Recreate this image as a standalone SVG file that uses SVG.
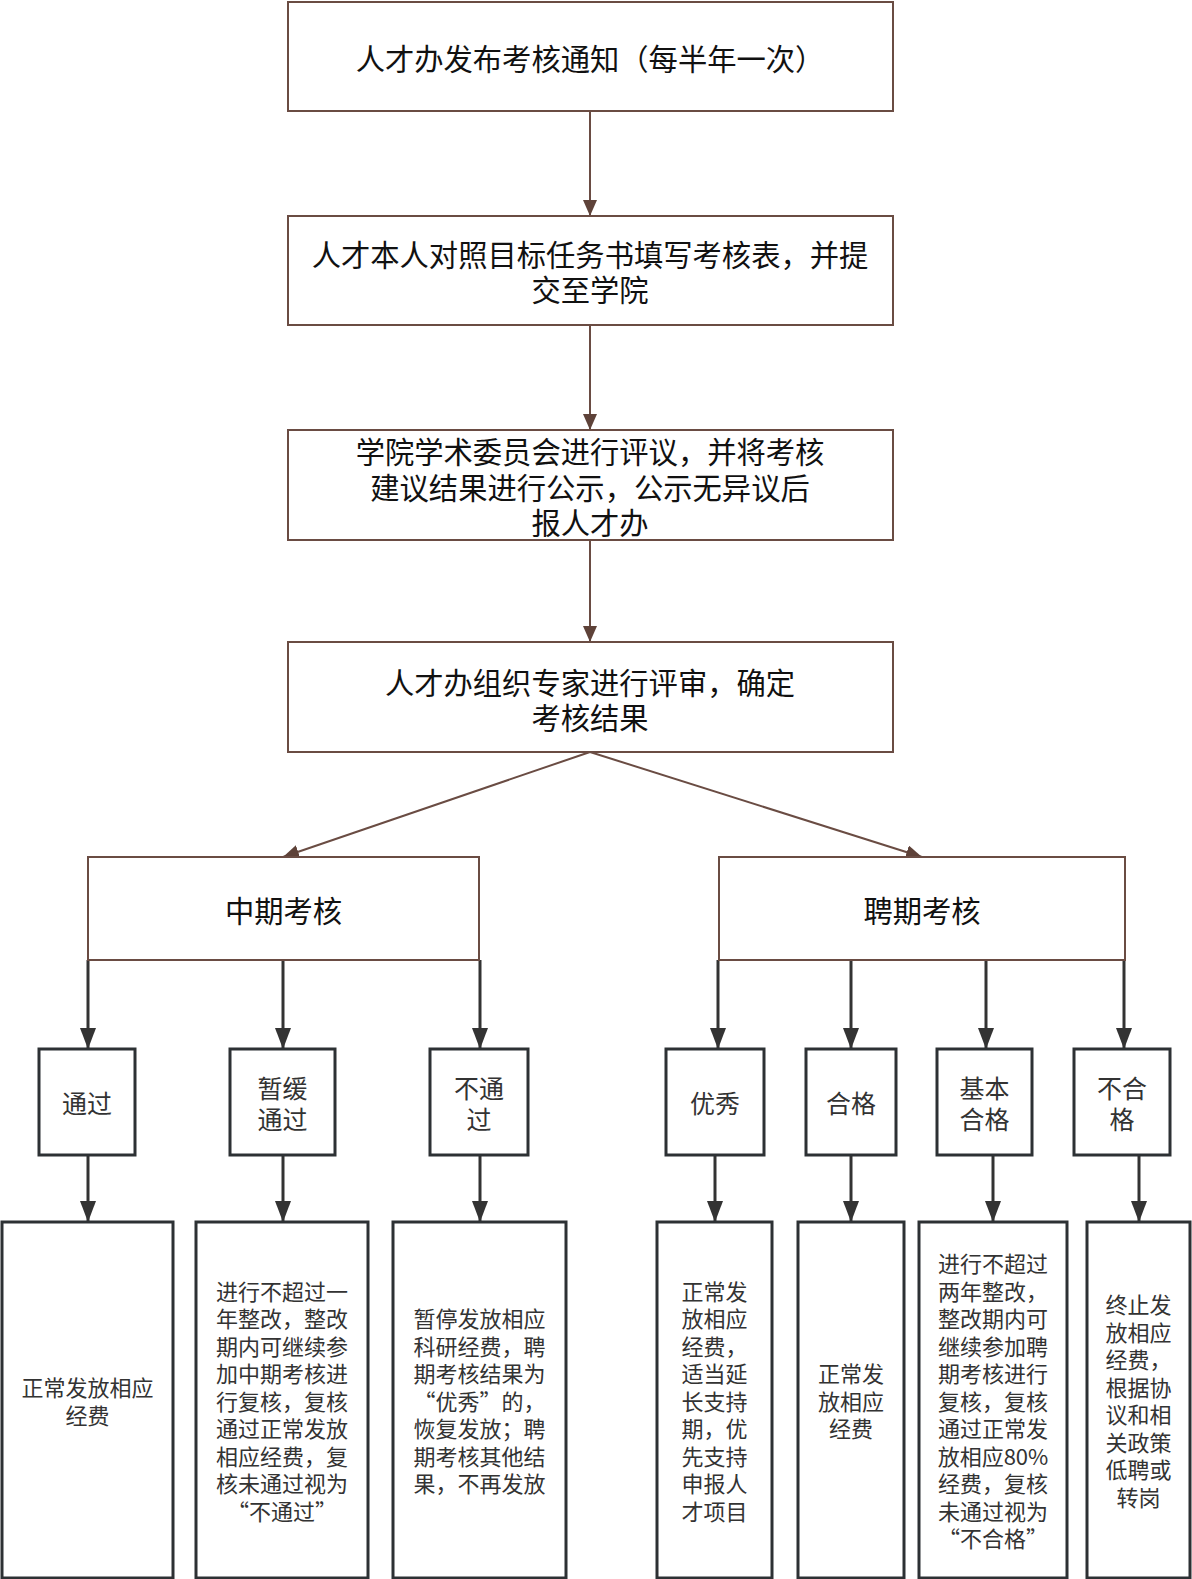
<svg xmlns="http://www.w3.org/2000/svg" width="1192" height="1579" viewBox="0 0 1192 1579">
<style>
  .bn { fill: #ffffff; stroke: #6a4c43; stroke-width: 2; }
  .dn { fill: #ffffff; stroke: #2d3134; stroke-width: 3; }
  .tb { font-family: "Noto Sans CJK SC", "Noto Sans", sans-serif; font-size: 29.3px; fill: #111111; text-anchor: middle; dominant-baseline: central; }
  .ts { font-family: "Noto Sans CJK SC", "Noto Sans", sans-serif; font-size: 25px; fill: #333333; text-anchor: middle; dominant-baseline: central; }
  .tr { font-family: "Noto Sans CJK SC", "Noto Sans", sans-serif; font-size: 22px; fill: #333333; text-anchor: middle; dominant-baseline: central; }
  .cb { fill: none; stroke: #6a4c43; stroke-width: 2; }
  .cd { fill: none; stroke: #333333; stroke-width: 3; }
</style>
<defs>
  <marker id="ab" viewBox="0 0 16 14" refX="16" refY="7" markerWidth="16" markerHeight="14" markerUnits="userSpaceOnUse" orient="auto">
    <path d="M0,0 L16,7 L0,14 Z" fill="#5e4239"/>
  </marker>
  <marker id="ad" viewBox="0 0 21 16" refX="21" refY="8" markerWidth="21" markerHeight="16" markerUnits="userSpaceOnUse" orient="auto">
    <path d="M0,0 L21,8 L0,16 Z" fill="#333333"/>
  </marker>
</defs>

<g id="connectors">
  <path class="cb" d="M590,111 L590,216" marker-end="url(#ab)"/>
  <path class="cb" d="M590,325 L590,430" marker-end="url(#ab)"/>
  <path class="cb" d="M590,540 L590,642" marker-end="url(#ab)"/>
  <path class="cb" d="M590,752 L283,857" marker-end="url(#ab)"/>
  <path class="cb" d="M590,752 L922,857" marker-end="url(#ab)"/>

  <path class="cd" d="M88,960 L88,1049" marker-end="url(#ad)"/>
  <path class="cd" d="M283,960 L283,1049" marker-end="url(#ad)"/>
  <path class="cd" d="M480,960 L480,1049" marker-end="url(#ad)"/>
  <path class="cd" d="M718,960 L718,1049" marker-end="url(#ad)"/>
  <path class="cd" d="M851,960 L851,1049" marker-end="url(#ad)"/>
  <path class="cd" d="M986,960 L986,1049" marker-end="url(#ad)"/>
  <path class="cd" d="M1124,960 L1124,1049" marker-end="url(#ad)"/>

  <path class="cd" d="M88,1155 L88,1222" marker-end="url(#ad)"/>
  <path class="cd" d="M283,1155 L283,1222" marker-end="url(#ad)"/>
  <path class="cd" d="M480,1155 L480,1222" marker-end="url(#ad)"/>
  <path class="cd" d="M715,1155 L715,1222" marker-end="url(#ad)"/>
  <path class="cd" d="M851,1155 L851,1222" marker-end="url(#ad)"/>
  <path class="cd" d="M993,1155 L993,1222" marker-end="url(#ad)"/>
  <path class="cd" d="M1139,1155 L1139,1222" marker-end="url(#ad)"/>
</g>

<g id="n1">
  <rect class="bn" x="288" y="2" width="605" height="109"/>
  <text class="tb" x="590" y="57">人才办发布考核通知（每半年一次）</text>
</g>
<g id="n2">
  <rect class="bn" x="288" y="216" width="605" height="109"/>
  <text class="tb" x="590" y="253">人才本人对照目标任务书填写考核表，并提</text>
  <text class="tb" x="590" y="288">交至学院</text>
</g>
<g id="n3">
  <rect class="bn" x="288" y="430" width="605" height="110"/>
  <text class="tb" x="590" y="450">学院学术委员会进行评议，并将考核</text>
  <text class="tb" x="590" y="485.5">建议结果进行公示，公示无异议后</text>
  <text class="tb" x="590" y="521">报人才办</text>
</g>
<g id="n4">
  <rect class="bn" x="288" y="642" width="605" height="110"/>
  <text class="tb" x="590" y="681">人才办组织专家进行评审，确定</text>
  <text class="tb" x="590" y="716">考核结果</text>
</g>

<g id="mid">
  <rect class="bn" x="88" y="857" width="391" height="103"/>
  <text class="tb" x="283.5" y="909">中期考核</text>
</g>
<g id="emp">
  <rect class="bn" x="719" y="857" width="406" height="103"/>
  <text class="tb" x="922" y="909">聘期考核</text>
</g>

<g id="m-pass">
  <rect class="dn" x="39" y="1049" width="96" height="106"/>
  <text class="ts" x="87" y="1102">通过</text>
</g>
<g id="m-defer">
  <rect class="dn" x="230" y="1049" width="105" height="106"/>
  <text class="ts" x="282.5" y="1087">暂缓</text>
  <text class="ts" x="282.5" y="1118">通过</text>
</g>
<g id="m-fail">
  <rect class="dn" x="430" y="1049" width="98" height="106"/>
  <text class="ts" x="479" y="1087">不通</text>
  <text class="ts" x="479" y="1118">过</text>
</g>
<g id="e-excellent">
  <rect class="dn" x="666" y="1049" width="98" height="106"/>
  <text class="ts" x="715" y="1102">优秀</text>
</g>
<g id="e-qualified">
  <rect class="dn" x="806" y="1049" width="90" height="106"/>
  <text class="ts" x="851" y="1102">合格</text>
</g>
<g id="e-basic">
  <rect class="dn" x="937" y="1049" width="95" height="106"/>
  <text class="ts" x="984.5" y="1087">基本</text>
  <text class="ts" x="984.5" y="1118">合格</text>
</g>
<g id="e-unqualified">
  <rect class="dn" x="1074" y="1049" width="96" height="106"/>
  <text class="ts" x="1122" y="1087">不合</text>
  <text class="ts" x="1122" y="1118">格</text>
</g>

<g id="r1">
  <rect class="dn" x="2" y="1222" width="171" height="356"/>
  <text class="tr" x="87.5" y="1386">正常发放相应</text>
  <text class="tr" x="87.5" y="1413.5">经费</text>
</g>
<g id="r2">
  <rect class="dn" x="196" y="1222" width="172" height="356"/>
  <text class="tr" x="282" y="1289.5">进行不超过一</text>
  <text class="tr" x="282" y="1317">年整改，整改</text>
  <text class="tr" x="282" y="1344.5">期内可继续参</text>
  <text class="tr" x="282" y="1372">加中期考核进</text>
  <text class="tr" x="282" y="1399.5">行复核，复核</text>
  <text class="tr" x="282" y="1427">通过正常发放</text>
  <text class="tr" x="282" y="1454.5">相应经费，复</text>
  <text class="tr" x="282" y="1482">核未通过视为</text>
  <text class="tr" x="282" y="1509.5">“不通过”</text>
</g>
<g id="r3">
  <rect class="dn" x="393" y="1222" width="173" height="356"/>
  <text class="tr" x="479.5" y="1317">暂停发放相应</text>
  <text class="tr" x="479.5" y="1344.5">科研经费，聘</text>
  <text class="tr" x="479.5" y="1372">期考核结果为</text>
  <text class="tr" x="479.5" y="1399.5">“优秀”的，</text>
  <text class="tr" x="479.5" y="1427">恢复发放；聘</text>
  <text class="tr" x="479.5" y="1454.5">期考核其他结</text>
  <text class="tr" x="479.5" y="1482">果，不再发放</text>
</g>
<g id="r4">
  <rect class="dn" x="657" y="1222" width="115" height="356"/>
  <text class="tr" x="714.5" y="1289.5">正常发</text>
  <text class="tr" x="714.5" y="1317">放相应</text>
  <text class="tr" x="714.5" y="1344.5">经费，</text>
  <text class="tr" x="714.5" y="1372">适当延</text>
  <text class="tr" x="714.5" y="1399.5">长支持</text>
  <text class="tr" x="714.5" y="1427">期，优</text>
  <text class="tr" x="714.5" y="1454.5">先支持</text>
  <text class="tr" x="714.5" y="1482">申报人</text>
  <text class="tr" x="714.5" y="1509.5">才项目</text>
</g>
<g id="r5">
  <rect class="dn" x="798" y="1222" width="106" height="356"/>
  <text class="tr" x="851" y="1372">正常发</text>
  <text class="tr" x="851" y="1399.5">放相应</text>
  <text class="tr" x="851" y="1427">经费</text>
</g>
<g id="r6">
  <rect class="dn" x="919" y="1222" width="148" height="356"/>
  <text class="tr" x="993" y="1262">进行不超过</text>
  <text class="tr" x="993" y="1289.5">两年整改，</text>
  <text class="tr" x="993" y="1317">整改期内可</text>
  <text class="tr" x="993" y="1344.5">继续参加聘</text>
  <text class="tr" x="993" y="1372">期考核进行</text>
  <text class="tr" x="993" y="1399.5">复核，复核</text>
  <text class="tr" x="993" y="1427">通过正常发</text>
  <text class="tr" x="993" y="1454.5">放相应80%</text>
  <text class="tr" x="993" y="1482">经费，复核</text>
  <text class="tr" x="993" y="1509.5">未通过视为</text>
  <text class="tr" x="993" y="1537">“不合格”</text>
</g>
<g id="r7">
  <rect class="dn" x="1087" y="1222" width="103" height="356"/>
  <text class="tr" x="1138.5" y="1303">终止发</text>
  <text class="tr" x="1138.5" y="1330.5">放相应</text>
  <text class="tr" x="1138.5" y="1358">经费，</text>
  <text class="tr" x="1138.5" y="1385.5">根据协</text>
  <text class="tr" x="1138.5" y="1413">议和相</text>
  <text class="tr" x="1138.5" y="1440.5">关政策</text>
  <text class="tr" x="1138.5" y="1468">低聘或</text>
  <text class="tr" x="1138.5" y="1495.5">转岗</text>
</g>
</svg>
